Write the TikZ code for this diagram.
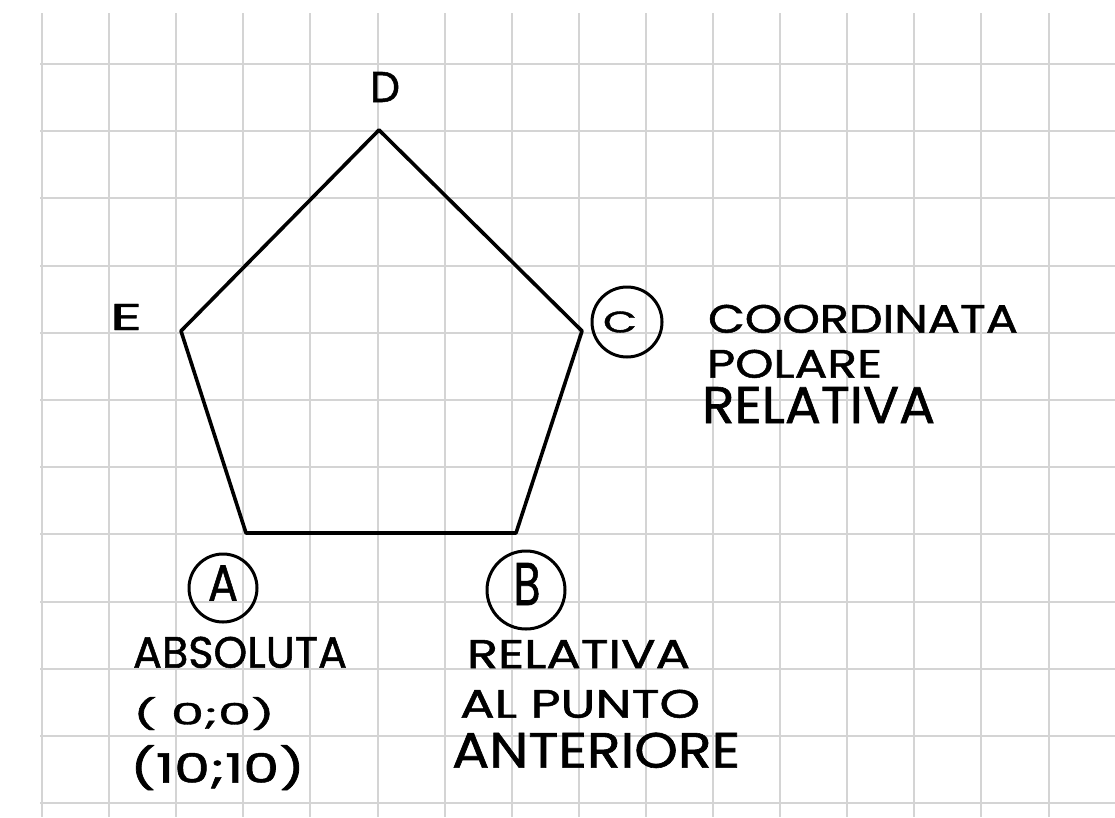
\documentclass[tikz,border=0pt]{standalone}
\usepackage{fontspec}
\usepackage{graphicx}
\newfontfamily\hand[FakeBold=1.2]{Poppins}
\definecolor{gridgray}{RGB}{212,212,212}

% text squeezed into a given width and height (caps only)
\newcommand{\handtext}[3]{\resizebox{#1}{#2}{\hand #3}}
% same, using the total height (for text with descenders)
\newcommand{\handtextd}[3]{\resizebox*{#1}{#2}{\hand #3}}

\tikzset{
  gridline/.style={draw=gridgray, line width=2pt},
  edge/.style={draw=black, line width=3.6pt, line join=round, line cap=round},
  lbl/.style={inner sep=0pt, outer sep=0pt, anchor=south west},
  ring/.style={circle, draw=black, line width=3pt, inner sep=0pt},
}

\begin{document}
\begin{tikzpicture}[x=1pt, y=-1pt]
  \useasboundingbox (0,0) rectangle (1115,817);
  \fill[white] (0,0) rectangle (1115,817);

  % squared paper
  \foreach \i in {0,...,15}
    \draw[gridline] ({42+67.1*\i},13) -- ({42+67.1*\i},817);
  \foreach \j in {0,...,11}
    \draw[gridline] (40,{64+67.2*\j}) -- (1115,{64+67.2*\j});

  % pentagon vertices
  \coordinate (A) at (246,533);
  \coordinate (B) at (516,533);
  \coordinate (C) at (582,331);
  \coordinate (D) at (379,130);
  \coordinate (E) at (181,331);
  \draw[edge] (A) -- (B) -- (C) -- (D) -- (E) -- cycle;

  % vertex letters
  \node[lbl] (labD) at (370,102) {\handtext{30pt}{30pt}{D}};
  \node[lbl] (labE) at (110,330) {\handtext{32pt}{26pt}{E}};

  % circled letters
  \node[ring, minimum size=68pt] (ringA) at (223,588) {};
  \node[lbl, anchor=center] (letA) at (223,583) {\handtext{30pt}{35pt}{A}};
  \node[ring, minimum size=78pt] (ringB) at (526,590) {};
  \node[lbl, anchor=center] (letB) at (527,584) {\handtext{27pt}{42pt}{B}};
  \node[ring, minimum size=70pt] (ringC) at (627,322) {};
  \node[lbl, anchor=center] (letC) at (620,322) {\handtext{34pt}{21pt}{C}};

  % notes for A
  \node[lbl] (absA) at (133,668) {\handtext{214pt}{31pt}{ABSOLUTA}};
  \node[lbl] (orig) at (133,730) {\handtextd{142pt}{33pt}{( 0;0)}};
  \node[lbl] (pt10) at (130,790) {\handtextd{175pt}{45pt}{(10;10)}};

  % notes for B
  \node[lbl] (relB) at (467,668) {\handtext{223pt}{28pt}{RELATIVA}};
  \node[lbl] (alp) at (460,718) {\handtext{240pt}{28pt}{AL PUNTO}};
  \node[lbl] (ant) at (452,768) {\handtext{288pt}{35pt}{ANTERIORE}};

  % notes for C
  \node[lbl] (coo) at (708,333) {\handtext{310pt}{28pt}{COORDINATA}};
  \node[lbl] (pol) at (707,378) {\handtext{175pt}{28pt}{POLARE}};
  \node[lbl] (relC) at (702,423) {\handtext{233pt}{36pt}{RELATIVA}};
\end{tikzpicture}
\end{document}
